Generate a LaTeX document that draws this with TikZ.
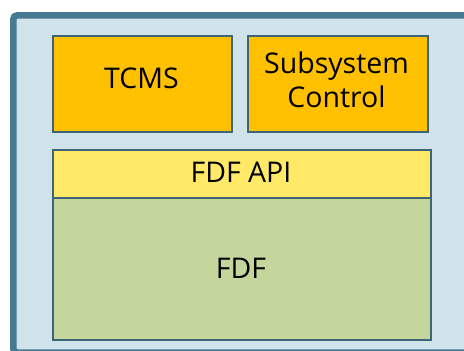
\documentclass[tikz,border=0pt]{standalone}
\usepackage{fontspec}
\setmainfont{Open Sans}
\definecolor{framec}{HTML}{467A93}
\definecolor{panel}{HTML}{D0E2EA}
\definecolor{edge}{HTML}{3C6676}
\definecolor{amber}{HTML}{FFC000}
\definecolor{lemon}{HTML}{FFE966}
\definecolor{sage}{HTML}{C4D69B}
\tikzset{
  layer/.style={draw=edge, line width=1.8pt, anchor=north west, inner sep=0pt},
  caption/.style={font=\fontsize{28.5}{34}\selectfont, text=black, align=center, inner sep=0pt}
}
\begin{document}
\begin{tikzpicture}[x=1pt,y=-1pt]
  \useasboundingbox (0,0) rectangle (464,351);
  \clip (0,0) rectangle (464,351);
  % outer panel, running off the right and bottom edges
  \draw[draw=framec, fill=panel, line width=6.5pt, rounded corners=4pt]
    (13.25,15.25) rectangle (480,352.5);
  % component boxes
  \node[layer, fill=amber, minimum width=179pt, minimum height=96pt] (tcms) at (52,35) {};
  \node[layer, fill=amber, minimum width=180pt, minimum height=96pt] (sub) at (247,35) {};
  \node[layer, fill=sage, minimum width=378pt, minimum height=142pt] (fdf) at (52,197) {};
  \node[layer, fill=lemon, minimum width=378pt, minimum height=48pt] (api) at (52,149) {};
  % labels
  \node[caption] (tcmsT) at (141.5,78) {TCMS};
  \node[caption] (subT) at (336.5,80) {Subsystem\\Control};
  \node[caption] (apiT) at (241,172) {FDF API};
  \node[caption] (fdfT) at (241,268) {FDF};
\end{tikzpicture}
\end{document}
